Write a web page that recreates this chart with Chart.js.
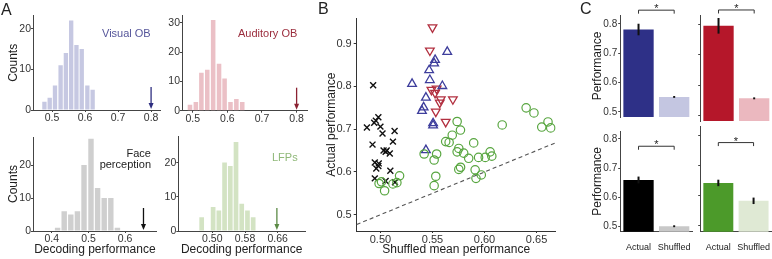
<!DOCTYPE html>
<html>
<head>
<meta charset="utf-8">
<script src="https://cdn.jsdelivr.net/npm/chart.js@4.4.1/dist/chart.umd.min.js"></script>
<style>
  body { margin: 0; background: #fff; font-family: 'Liberation Sans', Arial, sans-serif; }
  #fig { position: relative; width: 772px; height: 259px; overflow: hidden; background: #fff; }
  canvas { position: absolute; }
  .lbl { position: absolute; white-space: nowrap; line-height: 1; color: #222; }
</style>
</head>
<body>
<div id="fig">
  <canvas id="hVis" width="163" height="130" style="left:0;top:0"></canvas>
  <canvas id="hAud" width="150" height="130" style="left:160px;top:0"></canvas>
  <canvas id="hFace" width="160" height="129" style="left:0;top:130px"></canvas>
  <canvas id="hLfp" width="150" height="129" style="left:160px;top:130px"></canvas>
  <canvas id="scatter" width="244" height="259" style="left:318px;top:0"></canvas>
  <canvas id="cVis" width="109" height="124" style="left:585px;top:0"></canvas>
  <canvas id="cAud" width="80" height="124" style="left:692px;top:0"></canvas>
  <canvas id="cFace" width="109" height="135" style="left:585px;top:124px"></canvas>
  <canvas id="cLfp" width="80" height="135" style="left:692px;top:124px"></canvas>

  <div class="lbl" style="left:1px;top:2px;font-size:16px">A</div>
  <div class="lbl" style="left:318px;top:1px;font-size:16px">B</div>
  <div class="lbl" style="left:580px;top:1px;font-size:16px">C</div>
  <div class="lbl" style="left:102px;top:28px;font-size:11px;color:#55559a">Visual OB</div>
  <div class="lbl" style="left:238px;top:28px;font-size:11px;color:#9b2d3d">Auditory OB</div>
  <div class="lbl" style="left:80px;width:71px;text-align:right;top:148px;font-size:11px;line-height:11px">Face<br>perception</div>
  <div class="lbl" style="left:272px;top:152px;font-size:11px;color:#8fb878">LFPs</div>
</div>

<script>
// ---- A: null distributions (bin centre / count) ----
const visBins = [0.477, 0.493, 0.509, 0.526, 0.542, 0.558, 0.574, 0.590, 0.607, 0.623];
const visCounts = [2, 3, 6, 11, 14, 22, 16, 15, 6, 5];
const audBins = [0.492, 0.509, 0.525, 0.542, 0.559, 0.576, 0.592, 0.609, 0.626, 0.643];
const audCounts = [2, 3, 13, 14, 31, 16, 11, 3, 4, 3];
const faceBins = [0.416, 0.434, 0.452, 0.470, 0.488, 0.507, 0.525, 0.543, 0.561, 0.579];
const faceCounts = [1, 6, 5, 6, 20, 28, 13, 10, 10, 1];
const lfpBins = [0.474, 0.502, 0.516, 0.530, 0.544, 0.558, 0.572, 0.586, 0.600];
const lfpCounts = [4, 7, 6, 20, 19, 26, 8, 6, 4];
// actual performance (arrows)
const visActual = 0.8, audActual = 0.8, faceActual = 0.65, lfpActual = 0.658;
const visXTicks = [0.5, 0.6, 0.7, 0.8];
const audXTicks = [0.5, 0.6, 0.7, 0.8];
const faceXTicks = [0.4, 0.5, 0.6];
const lfpXTicks = [0.50, 0.58, 0.66];

// ---- B: actual vs shuffled mean ----
const faceX = [0.493, 0.487, 0.4956, 0.498, 0.494, 0.500, 0.502, 0.5136, 0.4924, 0.512, 0.503, 0.505, 0.506, 0.509, 0.4946, 0.4984, 0.498, 0.496, 0.5095, 0.4946, 0.505, 0.514];
const faceY = [0.803, 0.704, 0.720, 0.728, 0.715, 0.706, 0.690, 0.696, 0.664, 0.671, 0.650, 0.647, 0.650, 0.643, 0.622, 0.620, 0.614, 0.608, 0.603, 0.585, 0.579, 0.576];
const visX = [0.5642, 0.5525, 0.5516, 0.5468, 0.5475, 0.5304, 0.5595, 0.5437, 0.5415, 0.5399, 0.5506, 0.5506, 0.5437];
const visY = [0.881, 0.862, 0.854, 0.838, 0.815, 0.806, 0.801, 0.774, 0.751, 0.743, 0.714, 0.709, 0.651];
const audX = [0.5500, 0.5475, 0.549, 0.554, 0.5525, 0.558, 0.557, 0.5532, 0.5696, 0.5627];
const audY = [0.938, 0.884, 0.792, 0.795, 0.785, 0.770, 0.762, 0.741, 0.770, 0.717];
const lfpX = [0.4987, 0.501, 0.504, 0.512, 0.5158, 0.5184, 0.542, 0.554, 0.5516, 0.5532, 0.5516,
  0.5737, 0.5769, 0.569, 0.5627, 0.566, 0.5753, 0.5737, 0.580, 0.5848, 0.5896, 0.5943, 0.6007, 0.6054, 0.607,
  0.5753, 0.577, 0.591, 0.5918, 0.5969, 0.617, 0.640, 0.6475, 0.655, 0.661, 0.6636];
const lfpY = [0.573, 0.577, 0.556, 0.572, 0.575, 0.591, 0.642, 0.642, 0.628, 0.590, 0.568,
  0.718, 0.698, 0.686, 0.671, 0.669, 0.655, 0.647, 0.644, 0.632, 0.668, 0.634, 0.634, 0.647, 0.637,
  0.606, 0.611, 0.605, 0.585, 0.593, 0.710, 0.750, 0.738, 0.705, 0.717, 0.703];
const scatterXTicks = [0.50, 0.55, 0.60, 0.65];
const scatterYTicks = [0.5, 0.6, 0.7, 0.8, 0.9];

// ---- C: mean performance ----
const cLabels = ['Actual', 'Shuffled'];
const perfVis = [0.781, 0.551], errVis = [0.018, 0.0015];
const perfAud = [0.795, 0.557], errAud = [0.024, 0.0015];
const perfFace = [0.659, 0.500], errFace = [0.010, 0.0015];
const perfLfp = [0.642, 0.583], errLfp = [0.009, 0.009];
const perfTicks = [0.5, 0.6, 0.7, 0.8];

Chart.defaults.font.family = "'Liberation Sans', Arial, sans-serif";
Chart.defaults.color = '#333';
Chart.defaults.animation = false;
Chart.defaults.responsive = false;
Chart.defaults.devicePixelRatio = 1;
Chart.defaults.plugins.legend.display = false;
Chart.defaults.plugins.tooltip.enabled = false;

const fixW = w => s => { s.width = w; };
const fixH = h => s => { s.height = h; };
const setTicks = list => s => { s.ticks = list.map(v => ({ value: v })); };

const arrowPlugin = {
  id: 'arrow',
  afterDatasetsDraw(chart, args, opts) {
    const ctx = chart.ctx;
    const x = chart.scales.x.getPixelForValue(opts.at);
    const yb = chart.scales.y.getPixelForValue(0) - 1;
    ctx.save();
    ctx.strokeStyle = opts.color;
    ctx.fillStyle = opts.color;
    ctx.lineWidth = 1.3;
    ctx.beginPath();
    ctx.moveTo(x, yb - 22);
    ctx.lineTo(x, yb - 4);
    ctx.stroke();
    ctx.beginPath();
    ctx.moveTo(x - 2.5, yb - 6);
    ctx.lineTo(x, yb);
    ctx.lineTo(x + 2.5, yb - 6);
    ctx.closePath();
    ctx.fill();
    ctx.restore();
  }
};

function makeHist(id, c) {
  new Chart(document.getElementById(id), {
    type: 'bar',
    data: {
      datasets: [{
        data: c.bins.map((b, i) => ({ x: b, y: c.counts[i] })),
        backgroundColor: c.color,
        barPercentage: 0.82,
        categoryPercentage: 1
      }]
    },
    options: {
      layout: { padding: { top: c.padTop, right: c.padRight, left: 0, bottom: 0 } },
      scales: {
        x: {
          type: 'linear', min: c.xmin, max: c.xmax, offset: false,
          grid: { offset: false, drawOnChartArea: false, tickLength: 2, color: '#444' },
          border: { color: '#444' },
          afterBuildTicks: setTicks(c.xticks),
          afterFit: fixH(c.xH),
          ticks: { font: { size: 10.5 }, padding: 0, maxRotation: 0, autoSkip: false, callback: v => v.toFixed(c.dec) },
          title: { display: !!c.xTitle, text: c.xTitle || '', font: { size: 12 }, color: '#222', padding: { top: 0, bottom: 2 } }
        },
        y: {
          min: 0, max: c.ymax,
          grid: { drawOnChartArea: false, tickLength: 2, color: '#444' },
          border: { color: '#444' },
          afterBuildTicks: setTicks(c.yticks),
          afterFit: fixW(c.yW),
          ticks: { font: { size: 10.5 }, padding: 0 },
          title: { display: !!c.yTitle, text: c.yTitle || '', font: { size: 12 }, color: '#222', padding: { top: 6, bottom: 0 } }
        }
      },
      plugins: { arrow: { at: c.arrow, color: c.arrowColor } }
    },
    plugins: [arrowPlugin]
  });
}

makeHist('hVis', { bins: visBins, counts: visCounts, color: '#c6c8e2', arrow: visActual, arrowColor: '#2e2e80',
  xmin: 0.4424, xmax: 0.827, xticks: visXTicks, dec: 1, ymax: 23.2, yticks: [0, 10, 20],
  yW: 33, xH: 20, padTop: 15.7, padRight: 3, yTitle: 'Counts' });
makeHist('hAud', { bins: audBins, counts: audCounts, color: '#ebc0c6', arrow: audActual, arrowColor: '#8b2232',
  xmin: 0.469, xmax: 0.830, xticks: audXTicks, dec: 1, ymax: 32.7, yticks: [0, 10, 20, 30],
  yW: 22, xH: 19.3, padTop: 15, padRight: 3 });
makeHist('hFace', { bins: faceBins, counts: faceCounts, color: '#cfcfcf', arrow: faceActual, arrowColor: '#111',
  xmin: 0.349, xmax: 0.686, xticks: faceXTicks, dec: 1, ymax: 28.5, yticks: [0, 10, 20],
  yW: 33, xH: 28, padTop: 7, padRight: 3.3, yTitle: 'Counts', xTitle: 'Decoding performance' });
makeHist('hLfp', { bins: lfpBins, counts: lfpCounts, color: '#d3e3c3', arrow: lfpActual, arrowColor: '#5b8a45',
  xmin: 0.4168, xmax: 0.7268, xticks: lfpXTicks, dec: 2, ymax: 27.7, yticks: [0, 10, 20],
  yW: 18.3, xH: 28, padTop: 5, padRight: 5, xTitle: 'Decoding performance' });

// identity line behind the points
const diagPlugin = {
  id: 'diag',
  beforeDatasetsDraw(chart) {
    const { ctx, scales: { x, y } } = chart;
    const lo = Math.max(x.min, y.min), hi = Math.min(x.max, y.max);
    ctx.save();
    ctx.strokeStyle = '#555';
    ctx.lineWidth = 1.1;
    ctx.setLineDash([4, 3]);
    ctx.beginPath();
    ctx.moveTo(x.getPixelForValue(lo), y.getPixelForValue(lo));
    ctx.lineTo(x.getPixelForValue(hi), y.getPixelForValue(hi));
    ctx.stroke();
    ctx.restore();
  }
};

const pts = (xs, ys) => xs.map((v, i) => ({ x: v, y: ys[i] }));

new Chart(document.getElementById('scatter'), {
  type: 'scatter',
  data: {
    datasets: [
      { data: pts(lfpX, lfpY), pointStyle: 'circle', pointRadius: 4.2, borderColor: '#58a640', backgroundColor: 'rgba(0,0,0,0)', borderWidth: 1.2 },
      { data: pts(faceX, faceY), pointStyle: 'crossRot', pointRadius: 4.2, borderColor: '#111', borderWidth: 1.4 },
      { data: pts(visX, visY), pointStyle: 'triangle', pointRadius: 5, borderColor: '#3e3e9c', backgroundColor: 'rgba(0,0,0,0)', borderWidth: 1.3 },
      { data: pts(audX, audY), pointStyle: 'triangle', rotation: 180, pointRadius: 5, borderColor: '#b23040', backgroundColor: 'rgba(0,0,0,0)', borderWidth: 1.3 }
    ]
  },
  options: {
    layout: { padding: { top: 18.3, right: 4, left: 0, bottom: 0 } },
    scales: {
      x: {
        type: 'linear', min: 0.4772, max: 0.6684,
        grid: { drawOnChartArea: false, tickLength: 2, color: '#333' },
        border: { color: '#333' },
        afterBuildTicks: setTicks(scatterXTicks),
        afterFit: fixH(28),
        ticks: { font: { size: 11 }, padding: 0, maxRotation: 0, autoSkip: false, callback: v => v.toFixed(2) },
        title: { display: true, text: 'Shuffled mean performance', font: { size: 12 }, color: '#222', padding: { top: 0, bottom: 2.5 } }
      },
      y: {
        min: 0.4619, max: 0.9594,
        grid: { drawOnChartArea: false, tickLength: 3, color: '#333' },
        border: { color: '#333' },
        afterBuildTicks: setTicks(scatterYTicks),
        afterFit: fixW(38.7),
        ticks: { font: { size: 11 }, padding: 2, callback: v => v.toFixed(1) },
        title: { display: true, text: 'Actual performance', font: { size: 12 }, color: '#222', padding: { top: 6.8, bottom: 0 } }
      }
    }
  },
  plugins: [diagPlugin]
});

// error bars + significance bracket
const errPlugin = {
  id: 'errbars',
  afterDatasetsDraw(chart, args, opts) {
    const ctx = chart.ctx, y = chart.scales.y;
    const meta = chart.getDatasetMeta(0);
    const vals = chart.data.datasets[0].data;
    ctx.save();
    ctx.strokeStyle = '#111';
    ctx.lineWidth = 2;
    meta.data.forEach((bar, i) => {
      ctx.beginPath();
      ctx.moveTo(bar.x, y.getPixelForValue(vals[i] - opts.err[i]) + 0.5);
      ctx.lineTo(bar.x, y.getPixelForValue(vals[i] + opts.err[i]) - 0.5);
      ctx.stroke();
    });
    const yb = y.getPixelForValue(opts.sig);
    const x0 = meta.data[0].x, x1 = meta.data[1].x;
    ctx.strokeStyle = '#333';
    ctx.lineWidth = 1;
    ctx.beginPath();
    ctx.moveTo(x0, yb + 3.5);
    ctx.lineTo(x0, yb);
    ctx.lineTo(x1, yb);
    ctx.lineTo(x1, yb + 3.5);
    ctx.stroke();
    ctx.fillStyle = '#222';
    ctx.font = "11px 'Liberation Sans', Arial, sans-serif";
    ctx.textAlign = 'center';
    ctx.textBaseline = 'alphabetic';
    ctx.fillText('*', (x0 + x1) / 2, yb + 2);
    ctx.restore();
  }
};

function makePerf(id, c) {
  new Chart(document.getElementById(id), {
    type: 'bar',
    data: {
      labels: cLabels,
      datasets: [{ data: c.vals, backgroundColor: c.colors, barPercentage: 0.85, categoryPercentage: 1 }]
    },
    options: {
      layout: { padding: { top: c.padTop, right: c.padRight, left: 0, bottom: 0 } },
      scales: {
        x: {
          grid: { display: false },
          border: { display: c.showX, color: '#444' },
          afterFit: fixH(c.xH),
          ticks: { display: c.showX, font: { size: 9 }, padding: 2, color: '#222',
                   maxRotation: 0, minRotation: 0, autoSkip: false }
        },
        y: {
          min: c.ymin, max: c.ymax,
          grid: { drawOnChartArea: false, tickLength: 2.5, color: '#444' },
          border: { color: '#444' },
          afterBuildTicks: setTicks(perfTicks),
          afterFit: fixW(c.yW),
          ticks: { display: c.showY, font: { size: 10 }, padding: 1, callback: v => v.toFixed(1) },
          title: { display: c.showY, text: 'Performance', font: { size: 12 }, color: '#222', padding: { top: 5, bottom: 0 } }
        }
      },
      plugins: { errbars: { err: c.err, sig: c.sig } }
    },
    plugins: [errPlugin]
  });
}

makePerf('cVis', { vals: perfVis, err: errVis, colors: ['#2e3087', '#c4c6e1'], sig: 0.847,
  ymin: 0.4826, ymax: 0.8305, yW: 35.7, xH: 3, padTop: 15, padRight: 2, showX: false, showY: true });
makePerf('cAud', { vals: perfAud, err: errAud, colors: ['#b5172a', '#ebb8bf'], sig: 0.847,
  ymin: 0.4826, ymax: 0.8305, yW: 8.7, xH: 3, padTop: 15, padRight: 0, showX: false, showY: false });
makePerf('cFace', { vals: perfFace, err: errFace, colors: ['#000000', '#c8c8c8'], sig: 0.775,
  ymin: 0.4812, ymax: 0.8274, yW: 35.7, xH: 27.3, padTop: 2.7, padRight: 2, showX: true, showY: true });
makePerf('cLfp', { vals: perfLfp, err: errLfp, colors: ['#4c9a2a', '#dfe9d4'], sig: 0.775,
  ymin: 0.4812, ymax: 0.8274, yW: 8.7, xH: 27.3, padTop: 2.7, padRight: 0, showX: true, showY: false });
</script>
</body>
</html>
